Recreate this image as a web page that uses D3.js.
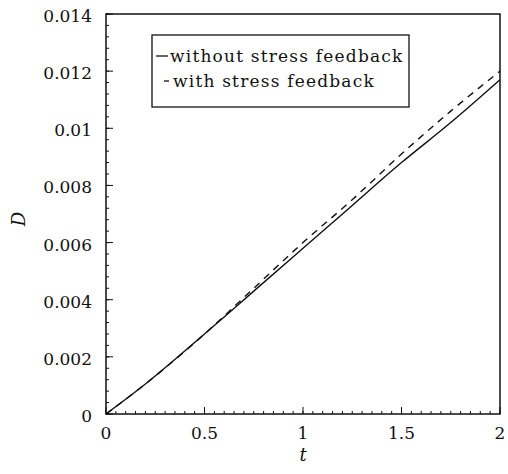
<!DOCTYPE html>
<html>
<head>
<meta charset="utf-8">
<script src="https://cdn.jsdelivr.net/npm/d3@7"></script>
<style>
  body { margin: 0; background: #fff; }
  svg text { font-family: "DejaVu Serif", serif; fill: #111; }
</style>
</head>
<body>
<div id="chart"></div>
<script>
// data
const tValues = [0, 0.2, 0.5, 0.75, 1.0, 1.25, 1.5, 1.75, 2.0];
const withoutFeedback = [0, 0.00105, 0.0028, 0.0043, 0.0058, 0.0073, 0.0088, 0.0102, 0.0117];
const withFeedback = [0, 0.00105, 0.0028, 0.0044, 0.0060, 0.0075, 0.0091, 0.0106, 0.0120];
const xTicks = [0, 0.5, 1, 1.5, 2];
const xTickLabels = ["0", "0.5", "1", "1.5", "2"];
const yTicks = [0, 0.002, 0.004, 0.006, 0.008, 0.01, 0.012, 0.014];
const yTickLabels = ["0", "0.002", "0.004", "0.006", "0.008", "0.01", "0.012", "0.014"];
const legendLabels = ["without stress feedback", "with stress feedback"];

const W = 508, H = 474;
const margin = {top: 14, right: 8, bottom: 60, left: 106};
const width = W - margin.left - margin.right;
const height = H - margin.top - margin.bottom;

const svg = d3.select("#chart").append("svg")
    .attr("width", W)
    .attr("height", H);

const g = svg.append("g")
    .attr("transform", "translate(" + margin.left + "," + margin.top + ")");

const x = d3.scaleLinear().domain([0, 2]).range([0, width]);
const y = d3.scaleLinear().domain([0, 0.014]).range([height, 0]);

// minor ticks (inward)
const xMinor = d3.range(0, 2.0001, 0.05);
const yMinor = d3.range(0, 0.01401, 0.0004);

g.selectAll(".xminor").data(xMinor).join("line")
    .attr("x1", d => x(d)).attr("x2", d => x(d))
    .attr("y1", height).attr("y2", height - 3)
    .attr("stroke", "#111").attr("stroke-width", 1);

g.selectAll(".yminor").data(yMinor).join("line")
    .attr("y1", d => y(d)).attr("y2", d => y(d))
    .attr("x1", 0).attr("x2", 3)
    .attr("stroke", "#111").attr("stroke-width", 1);

// major ticks
g.selectAll(".xmajor").data(xTicks).join("line")
    .attr("x1", d => x(d)).attr("x2", d => x(d))
    .attr("y1", height).attr("y2", height - 7)
    .attr("stroke", "#111").attr("stroke-width", 1);

g.selectAll(".ymajor").data(yTicks).join("line")
    .attr("y1", d => y(d)).attr("y2", d => y(d))
    .attr("x1", 0).attr("x2", 7)
    .attr("stroke", "#111").attr("stroke-width", 1);

// frame
g.append("rect")
    .attr("x", 0).attr("y", 0)
    .attr("width", width).attr("height", height)
    .attr("fill", "none")
    .attr("stroke", "#111")
    .attr("stroke-width", 1.5);

// tick labels
g.selectAll(".xlab").data(xTicks).join("text")
    .attr("x", d => x(d))
    .attr("y", height + 25)
    .attr("text-anchor", "middle")
    .style("font-size", "17px")
    .text((d, i) => xTickLabels[i]);

g.selectAll(".ylab").data(yTicks).join("text")
    .attr("x", -14)
    .attr("y", d => y(d) + 8)
    .attr("text-anchor", "end")
    .style("font-size", "17px")
    .text((d, i) => yTickLabels[i]);

// axis titles
g.append("text")
    .attr("x", width / 2)
    .attr("y", height + 47)
    .attr("text-anchor", "middle")
    .style("font-size", "18px")
    .style("font-style", "italic")
    .text("t");

g.append("text")
    .attr("transform", "rotate(-90)")
    .attr("x", -205)
    .attr("y", -81)
    .attr("text-anchor", "middle")
    .style("font-size", "18px")
    .style("font-style", "italic")
    .text("D");

// lines
const line = d3.line()
    .x(d => x(d[0]))
    .y(d => y(d[1]))
    .curve(d3.curveMonotoneX);

g.append("path")
    .datum(tValues.map((t, i) => [t, withoutFeedback[i]]))
    .attr("d", line)
    .attr("fill", "none")
    .attr("stroke", "#111")
    .attr("stroke-width", 1.4);

g.append("path")
    .datum(tValues.map((t, i) => [t, withFeedback[i]]))
    .attr("d", line)
    .attr("fill", "none")
    .attr("stroke", "#111")
    .attr("stroke-width", 1.4)
    .attr("stroke-dasharray", "7,6");

// legend
const legend = g.append("g").attr("transform", "translate(" + (152 - margin.left) + "," + (35 - margin.top) + ")");
legend.append("rect")
    .attr("width", 257).attr("height", 72)
    .attr("fill", "#fff")
    .attr("stroke", "#111")
    .attr("stroke-width", 1.3);

legend.append("line")
    .attr("x1", 4).attr("x2", 16).attr("y1", 21).attr("y2", 21)
    .attr("stroke", "#111").attr("stroke-width", 1.3);
legend.append("line")
    .attr("x1", 12).attr("x2", 17).attr("y1", 46).attr("y2", 46)
    .attr("stroke", "#111").attr("stroke-width", 1.3);

legend.selectAll(".ltext").data(legendLabels).join("text")
    .attr("x", (d, i) => i === 0 ? 18 : 21)
    .attr("y", (d, i) => 27 + i * 25)
    .style("font-size", "17px")
    .style("letter-spacing", "1.2px")
    .text(d => d);
</script>
</body>
</html>
